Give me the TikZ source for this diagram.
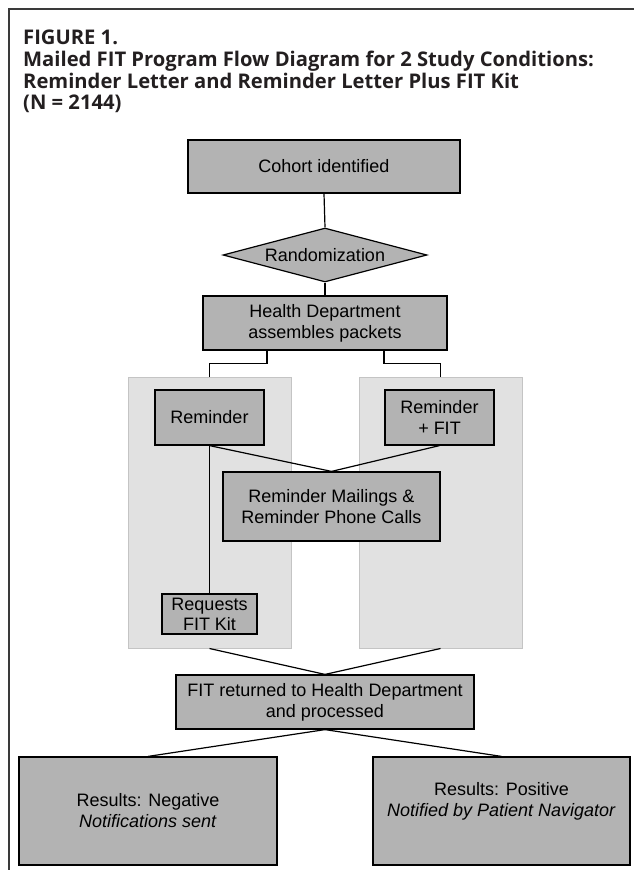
\documentclass[tikz,border=0pt]{standalone}
\usepackage{fontspec}
\setmainfont{Liberation Sans}
\newfontfamily\titlefont{Open Sans}
\usetikzlibrary{shapes.geometric}
\definecolor{boxfill}{HTML}{B3B3B3}
\definecolor{panelfill}{HTML}{E1E1E1}
\definecolor{paneldraw}{HTML}{C4C4C4}
\definecolor{titlecol}{HTML}{231F20}
\definecolor{framecol}{HTML}{3A3A3A}
\tikzset{
  box/.style={draw=black, fill=boxfill, line width=1.2pt, inner sep=0pt, align=center,
    font=\fontsize{18}{21}\selectfont},
  panel/.style={draw=paneldraw, fill=panelfill, line width=1pt, inner sep=0pt},
  dia/.style={diamond, draw=black, fill=boxfill, line width=1.2pt, inner sep=0pt,
    shape aspect=3.78, minimum width=204pt, minimum height=54pt, font=\fontsize{18}{21}\selectfont},
  conn/.style={draw=black, line width=1.2pt},
  ttl/.style={anchor=base west, inner sep=0pt, text=titlecol,
    font=\titlefont\bfseries\fontsize{20.2}{22}\selectfont},
  plaintext/.style={inner sep=0pt, align=center, font=\fontsize{18}{21}\selectfont},
}
\begin{document}
\begin{tikzpicture}[x=1pt, y=-1pt]
\useasboundingbox (0,0) rectangle (634,870);
% frame
\coordinate (frameTR) at (634,9);
\coordinate (frameTL) at (9,9);
\coordinate (frameBL) at (9,870);
\draw[framecol, line width=1.3pt] (frameTR) -- (frameTL) -- (frameBL);
% title
\node[ttl] (t1) at (23,44.5) {FIGURE 1.};
\node[ttl] (t2) at (23,66.5) {Mailed FIT Program Flow Diagram for 2 Study Conditions:};
\node[ttl] (t3) at (23,88) {Reminder Letter and Reminder Letter Plus FIT Kit};
\node[ttl] (t4) at (23,109.5) {(N = 2144)};
% panels
\node[panel, minimum width=163pt, minimum height=271pt] (lpanel) at (209.5,512.5) {};
\node[panel, minimum width=163pt, minimum height=271pt] (rpanel) at (440.5,512.5) {};
% boxes
\node[box, minimum width=272pt, minimum height=53pt] (cohort) at (324,166.5) {Cohort identified};
\node[dia] (rand) at (325,255) {Randomization};
\node[box, minimum width=244pt, minimum height=54pt] (hd) at (325,323) {Health Department\\assembles packets};
\node[box, minimum width=109pt, minimum height=55pt] (rem) at (209.5,417.5) {Reminder};
\node[box, minimum width=109pt, minimum height=55pt] (remfit) at (439.5,417.5) {Reminder\\+ FIT};
\node[box, minimum width=217pt, minimum height=69pt] (mail) at (331.5,506.5) {Reminder Mailings \&\\Reminder Phone Calls};
\node[box, minimum width=95pt, minimum height=40pt, font=\fontsize{18}{20}\selectfont] (req) at (209.5,614) {Requests\\FIT Kit};
\node[box, minimum width=298pt, minimum height=54pt] (fit) at (325,702) {FIT returned to Health Department\\and processed};
\node[box, minimum width=258pt, minimum height=108pt] (neg) at (148,811) {Results: Negative\\\textit{Notifications sent}};
\node[box, minimum width=257pt, minimum height=108pt] (pos) at (501.5,811) {};
\node[plaintext] (postext) at (501.5,801) {Results: Positive\\\textit{Notified by Patient Navigator}};
% connectors
\draw[conn] (cohort.south) -- (rand.north);
\draw[conn] (rand.south) -- (hd.south |- hd.north);
\draw[conn] ([xshift=-58pt]hd.south) -- ++(0,13) -| (lpanel.north);
\draw[conn] ([xshift=59pt]hd.south) -- ++(0,13) -| (rpanel.north);
\draw[conn] (rem.south) -- (mail.north);
\draw[conn] (remfit.south) -- (mail.north);
\draw[conn] (rem.south) -- (req.north);
\draw[conn] (lpanel.south) -- (fit.north);
\draw[conn] (rpanel.south) -- (fit.north);
\draw[conn] (fit.south) -- (neg.north);
\draw[conn] (fit.south) -- (pos.north);
\end{tikzpicture}
\end{document}
